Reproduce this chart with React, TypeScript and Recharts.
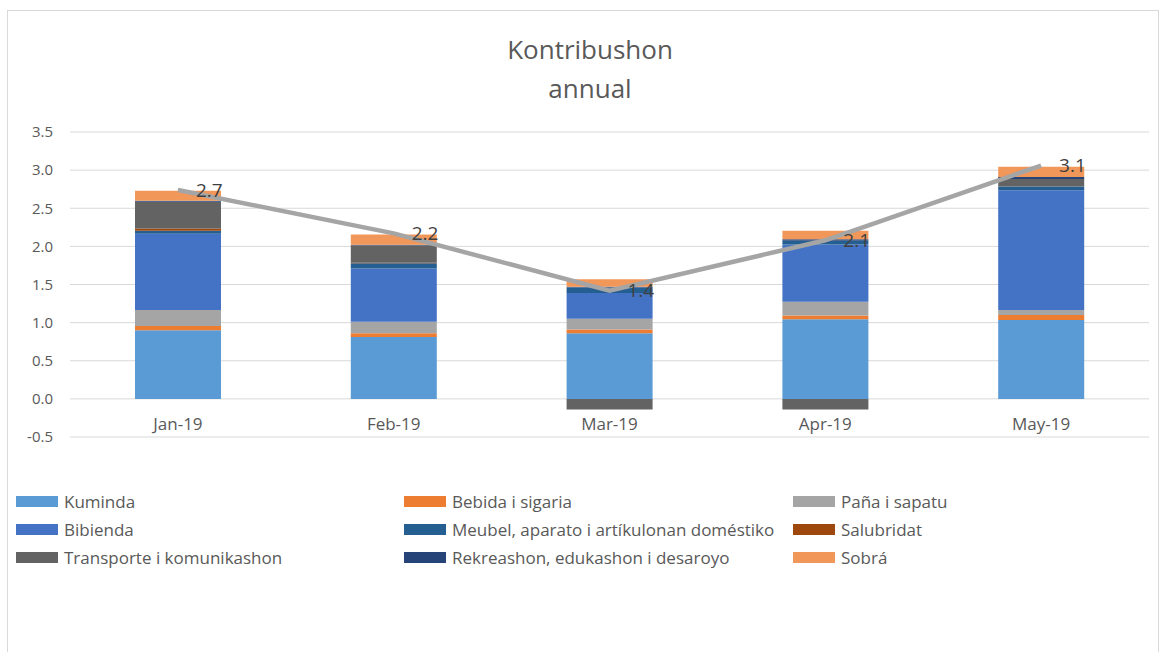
import React from "react";
import { ComposedChart, Bar, Line, XAxis, YAxis, CartesianGrid, LabelList } from "recharts";

const categories = ["Jan-19", "Feb-19", "Mar-19", "Apr-19", "May-19"];
const kuminda = [0.9, 0.81, 0.86, 1.045, 1.035];
const bebida = [0.055, 0.05, 0.05, 0.05, 0.065];
const pana = [0.21, 0.15, 0.14, 0.18, 0.065];
const bibienda = [1.0, 0.7, 0.34, 0.75, 1.57];
const meubel = [0.04, 0.07, 0.07, 0.05, 0.05];
const salubridat = [0.03, 0.005, 0.0, 0.0, 0.0];
const transporte = [0.35, 0.23, -0.14, -0.14, 0.1];
const rekreashon = [0.015, 0.005, 0.01, 0.02, 0.025];
const sobra = [0.13, 0.135, 0.1, 0.11, 0.135];
const total = [2.74, 2.17, 1.42, 2.08, 3.06];
const yTicks = [-0.5, 0, 0.5, 1, 1.5, 2, 2.5, 3, 3.5];

const series = [
  { key: "kuminda", name: "Kuminda", values: kuminda, color: "#5B9BD5" },
  { key: "bebida", name: "Bebida i sigaria", values: bebida, color: "#ED7D31" },
  { key: "pana", name: "Paña i sapatu", values: pana, color: "#A5A5A5" },
  { key: "bibienda", name: "Bibienda", values: bibienda, color: "#4472C4" },
  { key: "meubel", name: "Meubel, aparato i artíkulonan doméstiko", values: meubel, color: "#255E91" },
  { key: "salubridat", name: "Salubridat", values: salubridat, color: "#9E480E" },
  { key: "transporte", name: "Transporte i komunikashon", values: transporte, color: "#636363" },
  { key: "rekreashon", name: "Rekreashon, edukashon i desaroyo", values: rekreashon, color: "#264478" },
  { key: "sobra", name: "Sobrá", values: sobra, color: "#F1975A" },
];

const data = categories.map((c, i) => {
  const row: any = { name: c, total: total[i] };
  series.forEach((s) => (row[s.key] = s.values[i]));
  return row;
});

const FONT = "'Open Sans', sans-serif";
const TXT = "#595959";

const XTick = (props: any) => {
  const { x, y, payload } = props;
  return (
    <text x={x} y={y - 22} textAnchor="middle" dominantBaseline="central" fill={TXT} fontSize={17} fontFamily={FONT}>
      {payload.value}
    </text>
  );
};

export default function App() {
  const legendCols = [16, 404, 793];
  const legendRows = [501, 529, 557];
  return (
    <div style={{ position: "absolute", left: 0, top: 0, width: 1165, height: 652, overflow: "hidden", background: "#fff", fontFamily: FONT }}>
      <div style={{ position: "absolute", left: 7, top: 10, width: 1150, height: 700, border: "1px solid #D9D9D9" }} />
      <div style={{ position: "absolute", left: 390, width: 400, top: 30, textAlign: "center", fontSize: 26, lineHeight: "39px", color: TXT }}>
        Kontribushon
        <br />
        annual
      </div>
      <div style={{ position: "absolute", left: 0, top: 0 }}>
        <ComposedChart
          width={1165}
          height={652}
          data={data}
          stackOffset="sign"
          margin={{ top: 132, right: 16, bottom: 185, left: 0 }}
        >
          <CartesianGrid vertical={false} stroke="#D9D9D9" strokeWidth={1} />
          <XAxis dataKey="name" axisLine={false} tickLine={false} height={30} tick={<XTick />} interval={0} />
          <YAxis
            width={70}
            domain={[-0.5, 3.5]}
            ticks={yTicks}
            axisLine={false}
            tickLine={false}
            tickSize={0}
            tickMargin={17}
            tickFormatter={(v: number) => v.toFixed(1)}
            tick={{ fill: TXT, fontSize: 15, fontFamily: FONT }}
          />
          {series.map((s) => (
            <Bar key={s.key} dataKey={s.key} name={s.name} stackId="a" fill={s.color} barSize={86} isAnimationActive={false} />
          ))}
          <Line
            dataKey="total"
            stroke="#A5A5A5"
            strokeWidth={4.5}
            dot={false}
            activeDot={false}
            legendType="none"
            isAnimationActive={false}
          >
            <LabelList
              dataKey="total"
              position="right"
              offset={18}
              fill="#404040"
              fontSize={19}
              fontFamily={FONT}
              formatter={(v: any) => Number(v).toFixed(1)}
            />
          </Line>
        </ComposedChart>
      </div>
      {series.map((s, i) => {
        const col = legendCols[i % 3];
        const row = legendRows[Math.floor(i / 3)];
        return (
          <div key={s.key} style={{ position: "absolute", left: col, top: row - 11, height: 22, display: "flex", alignItems: "center", whiteSpace: "nowrap" }}>
            <div style={{ width: 42, height: 11, background: s.color, marginRight: 6 }} />
            <span style={{ fontSize: 17, color: TXT }}>{s.name}</span>
          </div>
        );
      })}
    </div>
  );
}
